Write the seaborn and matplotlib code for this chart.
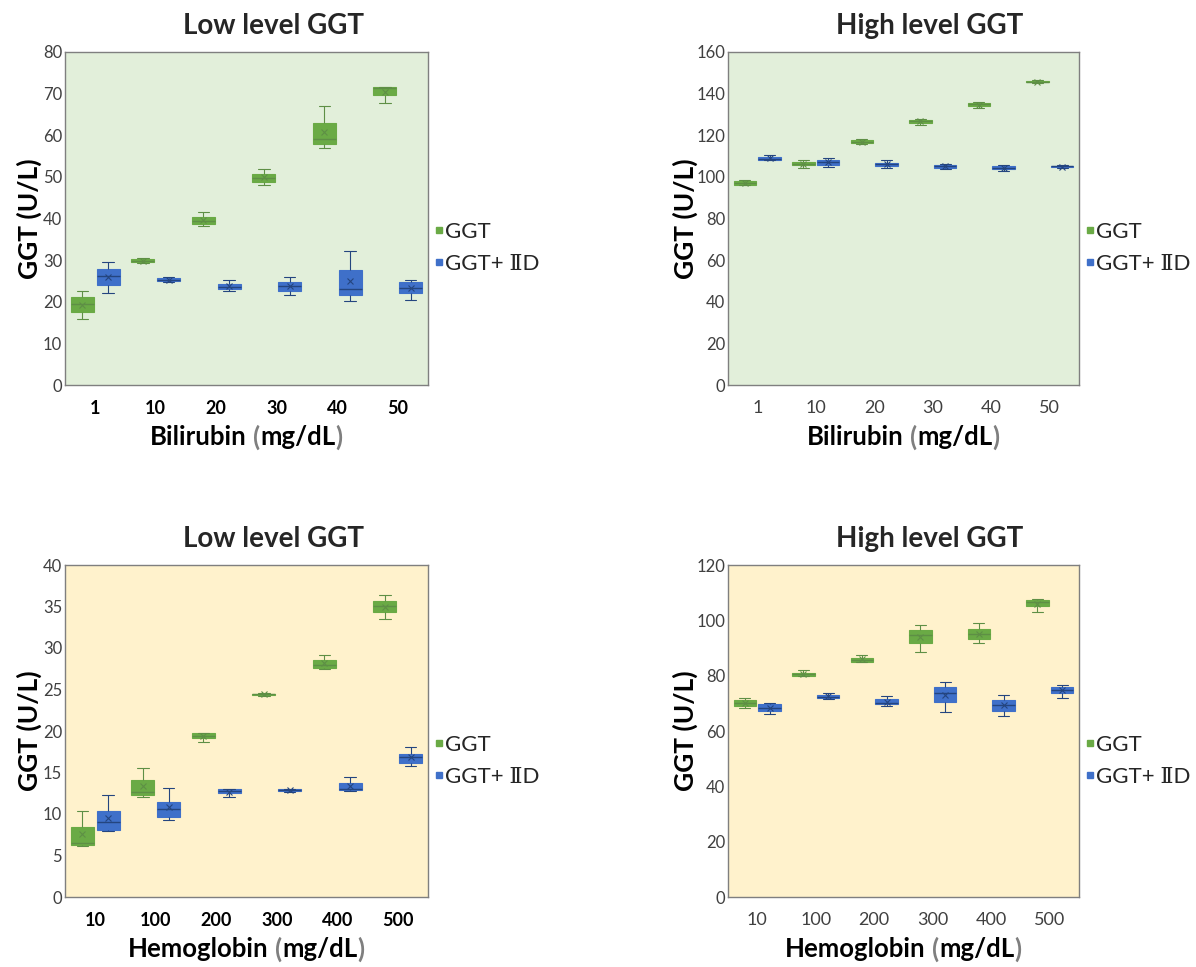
import numpy as np
import pandas as pd
import matplotlib
matplotlib.use("Agg")
import matplotlib.pyplot as plt
from matplotlib.lines import Line2D
import seaborn as sns

# ---------------- data (5-number summaries: low whisker, Q1, median, Q3, high whisker)
bili_levels = ["1", "10", "20", "30", "40", "50"]
hemo_levels = ["10", "100", "200", "300", "400", "500"]
groups = ["GGT", "GGT+ ⅡD"]

low_bili_ggt = [[15.8, 17.6, 19.4, 21.1, 22.6], [29.3, 29.5, 29.9, 30.2, 30.4],
                [38.2, 38.7, 39.4, 40.3, 41.6], [48.1, 48.8, 49.7, 50.7, 52.0],
                [56.9, 57.8, 59.0, 63.0, 67.1], [67.7, 69.6, 71.4, 71.6, 71.6]]
low_bili_iid = [[22.1, 24.1, 26.1, 27.9, 29.6], [24.7, 25.0, 25.3, 25.6, 25.9],
                [22.7, 23.0, 23.5, 24.3, 25.3], [21.6, 22.7, 23.7, 24.7, 25.9],
                [20.2, 21.6, 23.1, 27.6, 32.2], [20.4, 22.2, 23.4, 24.7, 25.3]]
high_bili_ggt = [[96.1, 96.3, 97.1, 97.8, 98.7], [104.3, 105.6, 106.4, 107.2, 108.0],
                 [115.7, 116.1, 116.7, 117.5, 118.1], [125.0, 126.0, 126.8, 127.4, 127.9],
                 [132.9, 134.2, 135.0, 135.6, 136.1], [145.1, 145.4, 145.8, 146.1, 146.6]]
high_bili_iid = [[107.9, 108.2, 108.8, 109.6, 110.6], [104.8, 105.9, 107.1, 108.0, 109.3],
                 [104.5, 105.1, 106.1, 106.9, 107.9], [103.9, 104.3, 105.1, 105.8, 106.1],
                 [102.6, 103.7, 104.3, 105.1, 105.5], [104.2, 104.7, 105.0, 105.1, 105.9]]
low_hemo_ggt = [[6.1, 6.3, 6.5, 8.4, 10.4], [12.0, 12.3, 12.6, 14.1, 15.6],
                [18.7, 19.2, 19.4, 19.7, 19.8], [24.2, 24.3, 24.4, 24.5, 24.6],
                [27.5, 27.6, 27.9, 28.5, 29.2], [33.5, 34.3, 35.1, 35.7, 36.4]]
low_hemo_iid = [[7.9, 8.1, 9.0, 10.4, 12.3], [9.3, 9.6, 10.6, 11.5, 13.1],
                [12.1, 12.5, 12.8, 13.0, 13.0], [12.7, 12.8, 12.85, 13.0, 13.05],
                [12.8, 12.85, 13.0, 13.7, 14.5], [15.8, 16.1, 16.9, 17.2, 18.1]]
high_hemo_ggt = [[68.2, 69.2, 70.2, 71.3, 72.0], [79.7, 79.9, 80.5, 80.8, 81.9],
                 [84.8, 85.0, 85.8, 86.4, 87.5], [88.7, 91.8, 94.7, 96.5, 98.2],
                 [91.7, 93.2, 95.1, 96.9, 98.9], [103.0, 105.1, 106.5, 107.5, 107.7]]
high_hemo_iid = [[66.2, 67.3, 68.2, 69.6, 70.3], [71.7, 71.8, 72.4, 73.0, 73.9],
                 [69.2, 69.6, 70.2, 71.4, 72.5], [66.8, 70.4, 73.9, 75.9, 77.7],
                 [65.6, 67.4, 69.5, 71.3, 72.9], [72.0, 73.7, 75.0, 76.0, 76.5]]

titles = ["Low level GGT", "High level GGT", "Low level GGT", "High level GGT"]
analytes = ["Bilirubin", "Bilirubin", "Hemoglobin", "Hemoglobin"]
ylims = [(0, 80, 10), (0, 160, 20), (0, 40, 5), (0, 120, 20)]

# ---------------- style
sns.set_theme(style="white")
plt.rcParams["font.family"] = ["Lato", "DejaVu Serif", "Noto Sans CJK KR", "DejaVu Sans"]

green = "#6AAA45"
blue = "#3F70C9"
box_cols = [green, blue]
line_cols = ["#5E8F45", "#24457F"]
bg_green = "#E2EFDA"
bg_gold = "#FFF2CC"

W, H = 1196, 967
fig = plt.figure(figsize=(W / 100, H / 100), dpi=100)


def box_frame(levels, ggt, iid):
    rows = []
    for lev, g, b in zip(levels, ggt, iid):
        for v in g:
            rows.append((lev, groups[0], v))
        for v in b:
            rows.append((lev, groups[1], v))
    return pd.DataFrame(rows, columns=["conc", "group", "value"])


panels = [
    (bili_levels, low_bili_ggt, low_bili_iid, bg_green, True),
    (bili_levels, high_bili_ggt, high_bili_iid, bg_green, False),
    (hemo_levels, low_hemo_ggt, low_hemo_iid, bg_gold, True),
    (hemo_levels, high_hemo_ggt, high_hemo_iid, bg_gold, False),
]
# axes rectangles in pixels: left, top, right, bottom
rects = [(65, 52, 428, 385), (728, 52, 1079, 385), (65, 565, 428, 897), (728, 565, 1079, 897)]

renderer = fig.canvas.get_renderer()


def text_w(s, **kw):
    t = fig.text(0, 0, s, **kw)
    w = t.get_window_extent(renderer).width
    t.remove()
    return w


def colored_xlabel(cx, cy, analyte):
    s = f"{analyte} (mg/dL)"
    kw = dict(fontsize=18.5, fontweight="bold")
    ref = text_w("x", **kw)
    total = text_w(s, **kw)
    x0 = cx - total / 2

    def pos(i):
        return x0 + (text_w(s[:i] + "x", **kw) - ref if i > 0 else 0)

    i_open = s.index("(")
    i_close = s.index(")")
    pieces = [(0, analyte, "black"), (i_open, "(", "#7F7F7F"),
              (i_open + 1, "mg/dL", "black"), (i_close, ")", "#7F7F7F")]
    for i, txt, col in pieces:
        fig.text(pos(i) / W, 1 - cy / H, txt, color=col, ha="left", va="center", **kw)


for k, ((levels, g, b, bg, bold_ticks), (l, t, r, btm)) in enumerate(zip(panels, rects)):
    ax = fig.add_axes([l / W, 1 - btm / H, (r - l) / W, (btm - t) / H])
    df = box_frame(levels, g, b)
    sns.boxplot(data=df, x="conc", y="value", hue="group", order=levels, hue_order=groups,
                palette=box_cols, whis=(0, 100), width=0.85, gap=0.1, linewidth=0.9,
                showmeans=True, showfliers=False, saturation=1,
                meanprops=dict(marker="x", markersize=4, markeredgewidth=0.8),
                legend=False, ax=ax)
    # per-series line colors
    for ci, cont in enumerate(ax.containers):
        lc = line_cols[ci]
        for patch in cont.boxes:
            patch.set_facecolor(box_cols[ci])
            patch.set_edgecolor(box_cols[ci])
            patch.set_linewidth(0.8)
        for ln in list(cont.medians):
            ln.set_color(lc)
            ln.set_linewidth(1.0)
        for ln in list(cont.whiskers) + list(cont.caps):
            ln.set_color(lc)
            ln.set_linewidth(0.8)
        for ln in list(cont.means):
            ln.set_markeredgecolor(lc)
            ln.set_markerfacecolor(lc)
    ax.set_facecolor(bg)
    y0, y1, step = ylims[k]
    ax.set_ylim(y0, y1)
    ax.set_yticks(np.arange(y0, y1 + step / 2, step))
    ax.set_xlim(-0.5, len(levels) - 0.5)
    for sp in ax.spines.values():
        sp.set_color("#7F7F7F")
        sp.set_linewidth(1.0)
    ax.tick_params(axis="y", length=0, pad=2, labelsize=12, labelcolor="#404040")
    ax.tick_params(axis="x", length=0, pad=11, labelsize=13,
                   labelcolor="black" if bold_ticks else "#404040")
    if bold_ticks:
        for lab in ax.get_xticklabels():
            lab.set_fontweight("bold")
    ax.set_xlabel("")
    ax.set_ylabel("GGT (U/L)", fontsize=19, fontweight="bold", color="black")
    off = 23 if bold_ticks else 30
    ax.yaxis.set_label_coords(-off / (r - l), 0.5)

    # legend
    handles = [Line2D([], [], marker="s", linestyle="none", markersize=4,
                      markerfacecolor=c, markeredgecolor=c) for c in box_cols]
    ax.legend(handles, groups, loc="center left",
              bbox_to_anchor=(1.0, (btm - (t + 196)) / (btm - t)),
              frameon=False, fontsize=16, handlelength=0.35, handletextpad=0.1,
              labelspacing=0.55, borderaxespad=0.2, borderpad=0.1)

    # title
    fig.text((l + (r - l) * 0.575) / W, 1 - (t - 26) / H, titles[k],
             ha="center", va="center", fontsize=20, fontweight="bold")
    # x label
    colored_xlabel((l + r) / 2, btm + 52, analytes[k])

fig.savefig("out.png", dpi=100)
